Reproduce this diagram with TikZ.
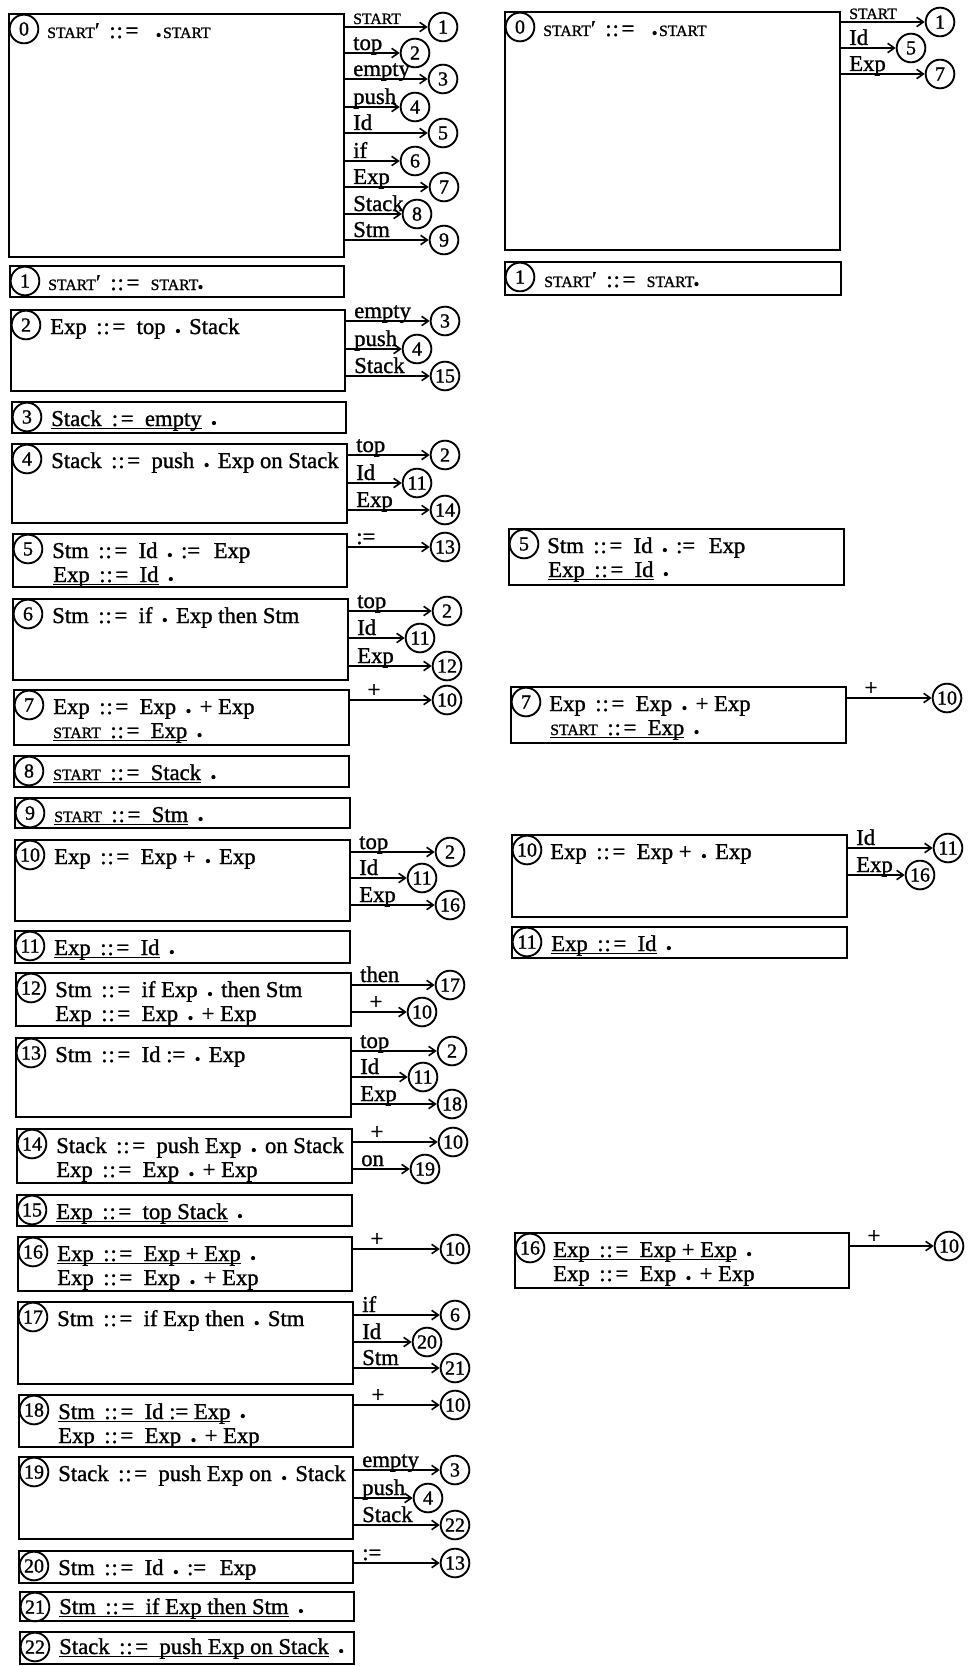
\documentclass[tikz,border=0pt]{standalone}
\usepackage{fontspec}
\setmainfont{Liberation Serif}
\newfontfamily\scanfont{Liberation Serif}[FakeBold=1.2]
\usetikzlibrary{arrows.meta,fit,calc}
\newcommand\itemfont{\scanfont\fontsize{17pt}{18pt}\selectfont}
\newcommand\numfont{\scanfont\fontsize{15pt}{15pt}\selectfont}
\newcommand\sct[1]{{\fontsize{11.8pt}{13pt}\selectfont #1}}
\newcommand\bul{\tikz[baseline=0pt]{\fill (0pt,2.2pt) circle[radius=1.6pt];}}
\newcommand\pd{\kern0.45em\bul\kern0.4em}
\newcommand\ceq{\kern0.42em:\kern0.04em:\kern0.12em=\kern0.5em}
\newcommand\uln[1]{\setbox0=\hbox{#1}\rlap{\rule[-2.5pt]{\wd0}{0.8pt}}\box0}
\tikzset{
  boxst/.style={draw, line width=1.5pt, inner sep=0pt},
  numc/.style={draw, circle, line width=1.4pt, minimum size=21.5pt, inner sep=0pt, font=\numfont},
  tc/.style={draw, circle, line width=1.4pt, minimum size=21.5pt, inner sep=0pt, font=\numfont},
  arr/.style={line width=1.2pt, -{Straight Barb[length=5pt,width=7pt,line width=1.2pt]}},
  txt/.style={anchor=base west, inner sep=0pt, font=\itemfont},
  lbl/.style={anchor=base west, inner sep=0pt, font=\itemfont},
}
% state box: name, L, T, R, B, number
\newcommand\stbox[6]{%
  \node[boxst, fit={(#2,#3) (#4,#5)}] (#1) {};
  \node[numc] (#1n) at (#2+15,#3+15) {#6};
}
% item line: name, x, y, text
\newcommand\itln[4]{\node[txt] (#1) at (#2,#3) {#4};}
% transition: box, id, y, label, target x, target number
\newcommand\trans[6]{%
  \node[tc] (#2) at (#5,#3) {#6};
  \draw[arr] (#1.east |- #2.center) -- (#2);
  \node[lbl] (#2l) at ($(#1.east |- #2.center)+(8,-3)$) {#4};
}
\begin{document}
\begin{tikzpicture}[x={(0.75pt,0)}, y={(0,-0.75pt)}]
\useasboundingbox (0,0) rectangle (969,1666);
% ---------------- left column ----------------
\stbox{b0}{9}{14}{344}{257}{0}
\itln{t0}{47}{38}{\sct{START}′\ceq\kern0.3em\bul\kern0.1em\sct{START}}
\trans{b0}{a01}{27}{\sct{START}}{443}{1}
\trans{b0}{a02}{53}{top}{415}{2}
\trans{b0}{a03}{79}{empty}{443}{3}
\trans{b0}{a04}{107}{push}{415}{4}
\trans{b0}{a05}{133}{Id}{443}{5}
\trans{b0}{a06}{161}{if}{415}{6}
\trans{b0}{a07}{187}{Exp}{444}{7}
\trans{b0}{a08}{214}{Stack}{417}{8}
\trans{b0}{a09}{240}{Stm}{444}{9}

\stbox{b1}{10}{266}{344}{297}{1}
\itln{t1}{48}{290}{\sct{START}′\ceq\sct{START}\bul}

\stbox{b2}{11}{310}{345}{391}{2}
\itln{t2}{50}{334}{Exp\ceq top\pd Stack}
\trans{b2}{a21}{321}{empty}{445}{3}
\trans{b2}{a22}{349}{push}{417}{4}
\trans{b2}{a23}{376}{Stack}{445}{15}

\stbox{b3}{12}{402}{346}{433}{3}
\itln{t3}{51}{426}{\uln{Stack\kern0.45em:\kern0.12em=\kern0.5em empty}\pd}

\stbox{b4}{12}{444}{347}{523}{4}
\itln{t4}{51}{468}{Stack\ceq push\pd Exp on Stack}
\trans{b4}{a41}{455}{top}{445}{2}
\trans{b4}{a42}{483}{Id}{417}{11}
\trans{b4}{a43}{510}{Exp}{445}{14}

\stbox{b5}{13}{534}{347}{587}{5}
\itln{t5a}{52}{558}{Stm\ceq Id\pd :=\kern0.6em Exp}
\itln{t5b}{53}{582}{\uln{Exp\ceq Id}\pd}
\trans{b5}{a51}{547}{:=}{445}{13}

\stbox{b6}{13}{599}{348}{680}{6}
\itln{t6}{52}{623}{Stm\ceq if\pd Exp then Stm}
\trans{b6}{a61}{611}{top}{447}{2}
\trans{b6}{a62}{638}{Id}{420}{11}
\trans{b6}{a63}{666}{Exp}{447}{12}

\stbox{b7}{14}{690}{349}{745}{7}
\itln{t7a}{53}{714}{Exp\ceq Exp\pd + Exp}
\itln{t7b}{53}{738}{\uln{\sct{START}\ceq Exp}\pd}
\trans{b7}{a71}{700}{\hspace{7pt}+}{447}{10}

\stbox{b8}{14}{756}{349}{787}{8}
\itln{t8}{53}{780}{\uln{\sct{START}\ceq Stack}\pd}

\stbox{b9}{15}{798}{350}{828}{9}
\itln{t9}{54}{822}{\uln{\sct{START}\ceq Stm}\pd}

\stbox{b10}{15}{840}{350}{921}{10}
\itln{t10}{54}{864}{Exp\ceq Exp +\pd Exp}
\trans{b10}{a101}{852}{top}{450}{2}
\trans{b10}{a102}{878}{Id}{422}{11}
\trans{b10}{a103}{905}{Exp}{450}{16}

\stbox{b11}{15}{931}{350}{963}{11}
\itln{t11}{54}{955}{\uln{Exp\ceq Id}\pd}

\stbox{b12}{16}{973}{351}{1026}{12}
\itln{t12a}{55}{997}{Stm\ceq if Exp\pd then Stm}
\itln{t12b}{55}{1021}{Exp\ceq Exp\pd + Exp}
\trans{b12}{a121}{985}{then}{450}{17}
\trans{b12}{a122}{1012}{\hspace{7pt}+}{422}{10}

\stbox{b13}{16}{1038}{351}{1117}{13}
\itln{t13}{55}{1062}{Stm\ceq Id :=\pd Exp}
\trans{b13}{a131}{1051}{top}{452}{2}
\trans{b13}{a132}{1077}{Id}{423}{11}
\trans{b13}{a133}{1104}{Exp}{452}{18}

\stbox{b14}{17}{1129}{352}{1183}{14}
\itln{t14a}{56}{1153}{Stack\ceq push Exp\pd on Stack}
\itln{t14b}{56}{1177}{Exp\ceq Exp\pd + Exp}
\trans{b14}{a141}{1142}{\hspace{7pt}+}{453}{10}
\trans{b14}{a142}{1169}{on}{425}{19}

\stbox{b15}{17}{1195}{352}{1226}{15}
\itln{t15}{56}{1219}{\uln{Exp\ceq top Stack}\pd}

\stbox{b16}{18}{1237}{352}{1291}{16}
\itln{t16a}{57}{1261}{\uln{Exp\ceq Exp + Exp}\pd}
\itln{t16b}{57}{1285}{Exp\ceq Exp\pd + Exp}
\trans{b16}{a161}{1249}{\hspace{7pt}+}{455}{10}

\stbox{b17}{18}{1302}{353}{1384}{17}
\itln{t17}{57}{1326}{Stm\ceq if Exp then\pd Stm}
\trans{b17}{a171}{1315}{if}{455}{6}
\trans{b17}{a172}{1342}{Id}{427}{20}
\trans{b17}{a173}{1368}{Stm}{455}{21}

\stbox{b18}{19}{1395}{353}{1447}{18}
\itln{t18a}{58}{1419}{\uln{Stm\ceq Id := Exp}\pd}
\itln{t18b}{58}{1443}{Exp\ceq Exp\pd + Exp}
\trans{b18}{a181}{1405}{\hspace{7pt}+}{455}{10}

\stbox{b19}{19}{1457}{353}{1539}{19}
\itln{t19}{58}{1481}{Stack\ceq push Exp on\pd Stack}
\trans{b19}{a191}{1470}{empty}{455}{3}
\trans{b19}{a192}{1498}{push}{428}{4}
\trans{b19}{a193}{1525}{Stack}{455}{22}

\stbox{b20}{19}{1551}{353}{1583}{20}
\itln{t20}{58}{1575}{Stm\ceq Id\pd :=\kern0.6em Exp}
\trans{b20}{a201}{1563}{:=}{455}{13}

\stbox{b21}{20}{1592}{354}{1621}{21}
\itln{t21}{59}{1614}{\uln{Stm\ceq if Exp then Stm}\pd}

\stbox{b22}{20}{1632}{354}{1664}{22}
\itln{t22}{59}{1654}{\uln{Stack\ceq push Exp on Stack}\pd}

% ---------------- right column ----------------
\stbox{r0}{505}{12}{840}{250}{0}
\itln{s0}{543}{36}{\sct{START}′\ceq\kern0.3em\bul\kern0.1em\sct{START}}
\trans{r0}{c01}{22}{\sct{START}}{940}{1}
\trans{r0}{c02}{48}{Id}{911}{5}
\trans{r0}{c03}{74}{Exp}{940}{7}

\stbox{r1}{505}{262}{841}{295}{1}
\itln{s1}{544}{287}{\sct{START}′\ceq\sct{START}\bul}

\stbox{r5}{509}{529}{844}{585}{5}
\itln{s5a}{547}{553}{Stm\ceq Id\pd :=\kern0.6em Exp}
\itln{s5b}{548}{577}{\uln{Exp\ceq Id}\pd}

\stbox{r7}{511}{687}{846}{743}{7}
\itln{s7a}{549}{711}{Exp\ceq Exp\pd + Exp}
\itln{s7b}{550}{735}{\uln{\sct{START}\ceq Exp}\pd}
\trans{r7}{c71}{698}{\hspace{7pt}+}{947}{10}

\stbox{r10}{512}{835}{847}{917}{10}
\itln{s10}{550}{859}{Exp\ceq Exp +\pd Exp}
\trans{r10}{c101}{848}{Id}{948}{11}
\trans{r10}{c102}{875}{Exp}{920}{16}

\stbox{r11}{512}{927}{847}{958}{11}
\itln{s11}{551}{951}{\uln{Exp\ceq Id}\pd}

\stbox{r16}{515}{1233}{849}{1288}{16}
\itln{s16a}{553}{1257}{\uln{Exp\ceq Exp + Exp}\pd}
\itln{s16b}{553}{1281}{Exp\ceq Exp\pd + Exp}
\trans{r16}{c161}{1246}{\hspace{7pt}+}{949}{10}
\end{tikzpicture}
\end{document}
